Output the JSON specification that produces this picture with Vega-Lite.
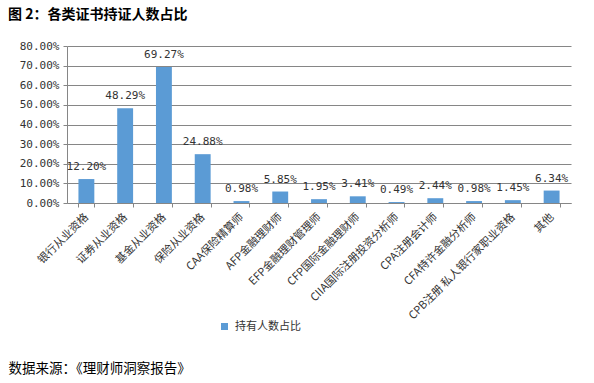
{
  "$schema": "https://vega.github.io/schema/vega-lite/v6.json",
  "width": 504,
  "height": 157,
  "autosize": {"type": "none"},
  "padding": {"left": 67, "top": 46, "right": 23, "bottom": 180},
  "background": "white",
  "title": {
    "text": "图 2：各类证书持证人数占比",
    "anchor": "start",
    "frame": "group",
    "dx": -59,
    "offset": 18,
    "font": "Noto Sans CJK SC",
    "fontSize": 14,
    "fontWeight": "bold",
    "color": "#000000"
  },
  "data": {
    "values": [
      {"cert": "银行从业资格", "share": 0.1220},
      {"cert": "证券从业资格", "share": 0.4829},
      {"cert": "基金从业资格", "share": 0.6927},
      {"cert": "保险从业资格", "share": 0.2488},
      {"cert": "CAA保险精算师", "share": 0.0098},
      {"cert": "AFP金融理财师", "share": 0.0585},
      {"cert": "EFP金融理财管理师", "share": 0.0195},
      {"cert": "CFP国际金融理财师", "share": 0.0341},
      {"cert": "CIIA国际注册投资分析师", "share": 0.0049},
      {"cert": "CPA注册会计师", "share": 0.0244},
      {"cert": "CFA特许金融分析师", "share": 0.0098},
      {"cert": "CPB注册 私人银行家职业资格", "share": 0.0145},
      {"cert": "其他", "share": 0.0634}
    ]
  },
  "encoding": {
    "x": {
      "field": "cert",
      "type": "nominal",
      "sort": null,
      "scale": {"paddingInner": 0.59, "paddingOuter": 0.295},
      "axis": {
        "title": "数据来源：《理财师洞察报告》",
        "titleX": -59,
        "titleY": 165,
        "titleAlign": "left",
        "titleBaseline": "middle",
        "titleFont": "Noto Sans CJK SC",
        "titleFontSize": 13.5,
        "titleFontWeight": "normal",
        "titleColor": "#000000",
        "labelAngle": -45,
        "labelAlign": "right",
        "labelBaseline": "middle",
        "labelFont": "Noto Sans CJK SC",
        "labelFontSize": 11,
        "labelColor": "#333333",
        "labelPadding": 8,
        "labelOverlap": false,
        "labelLimit": 300,
        "tickBand": "extent",
        "tickSize": 4,
        "tickColor": "#868686",
        "domainColor": "#868686"
      }
    },
    "y": {
      "field": "share",
      "type": "quantitative",
      "scale": {"domain": [0, 0.8], "nice": false},
      "axis": {
        "title": null,
        "values": [0, 0.1, 0.2, 0.3, 0.4, 0.5, 0.6, 0.7, 0.8],
        "format": ".2%",
        "labelFont": "DejaVu Sans Mono",
        "labelFontSize": 11,
        "labelColor": "#333333",
        "labelPadding": 4,
        "tickSize": 4,
        "tickColor": "#868686",
        "domainColor": "#868686",
        "gridColor": "#868686",
        "gridWidth": 1
      }
    }
  },
  "layer": [
    {
      "mark": {"type": "bar"},
      "encoding": {
        "color": {
          "datum": "持有人数占比",
          "type": "nominal",
          "scale": {"range": ["#5B9BD5"]},
          "legend": {
            "title": null,
            "orient": "none",
            "legendX": 152,
            "legendY": 275,
            "padding": 0,
            "symbolType": "square",
            "symbolSize": 49,
            "labelFont": "Noto Sans CJK SC",
            "labelFontSize": 11,
            "labelColor": "#333333",
            "labelOffset": 5
          }
        }
      }
    },
    {
      "mark": {
        "type": "text",
        "baseline": "bottom",
        "dy": -7,
        "font": "DejaVu Sans Mono",
        "fontSize": 11,
        "color": "#333333"
      },
      "encoding": {
        "text": {"field": "share", "type": "quantitative", "format": ".2%"}
      }
    }
  ],
  "config": {
    "view": {"stroke": null}
  }
}
